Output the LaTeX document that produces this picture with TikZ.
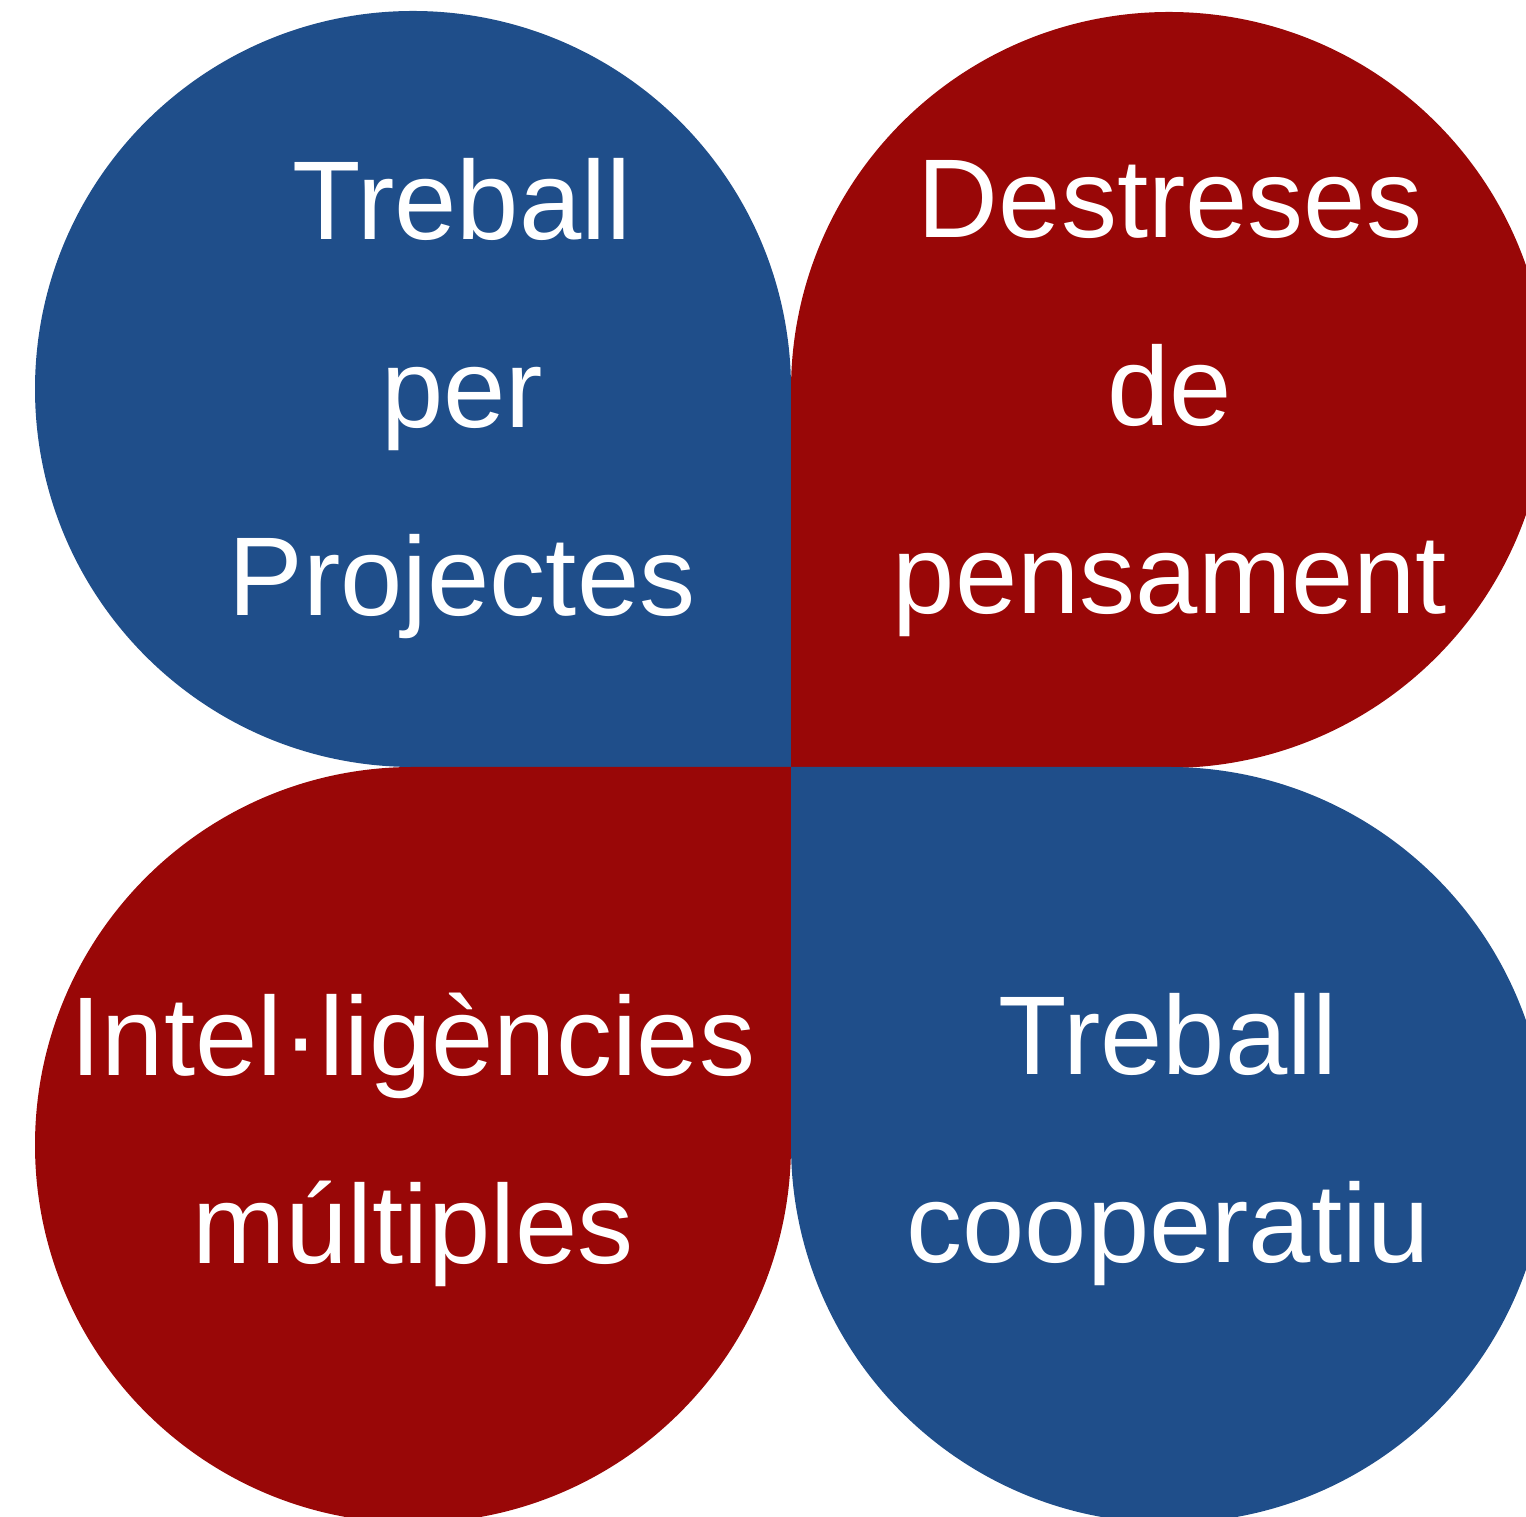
\documentclass[tikz,border=0pt]{standalone}
\usepackage{fontspec}
\setmainfont{Liberation Sans}
\usepackage{tikz}
\definecolor{petalblue}{RGB}{31,78,138}
\definecolor{petalred}{RGB}{153,7,7}

\begin{document}
\begin{tikzpicture}[x=1pt, y=1pt, petal/.style={draw=none}, label/.style={text=white, align=center, inner sep=0pt, font=\fontsize{112}{188}\selectfont}]
    \useasboundingbox (0,0) rectangle (1526,1517);
    \clip (0,0) rectangle (1526,1517);

    %Petals
    \fill[petal, petalblue] (791,750) -- (413,750) arc[start angle=270, end angle=0, radius=378] -- cycle;
    \fill[petal, petalred] (791,750) -- (791,1127) arc[start angle=180, end angle=-90, radius=378] -- cycle;
    \fill[petal, petalred] (791,750) -- (791,372) arc[start angle=0, end angle=-270, radius=378] -- cycle;
    \fill[petal, petalblue] (791,750) -- (1169,750) arc[start angle=90, end angle=-180, radius=378] -- cycle;

    %Nodes
    \node[label](projects) at (462,1118) {Treball\\per\\Projectes};
    \node[label](thinking) at (1170,1118) {Destreses\\de\\pensament};
    \node[label](intelligences) at (413,377) {Intel·ligències\\múltiples};
    \node[label](cooperative) at (1168,377) {Treball\\cooperatiu};

\end{tikzpicture}
\end{document}
